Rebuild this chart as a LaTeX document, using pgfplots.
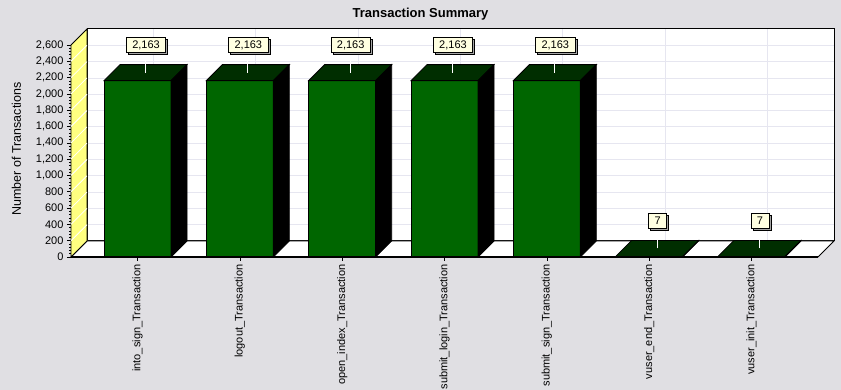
\documentclass[border=0pt]{standalone}
\usepackage{pgfplots}
\usepackage{pgfplotstable}
\pgfplotsset{compat=1.18}
\usepackage{fontspec}
\setmainfont{Liberation Sans}
\usetikzlibrary{shadows}
\definecolor{bgc}{RGB}{224,223,227}
\definecolor{frontg}{RGB}{0,102,0}
\definecolor{topg}{RGB}{0,46,0}
\definecolor{wally}{RGB}{255,255,128}
\definecolor{gridc}{RGB}{230,230,240}
\definecolor{tipy}{RGB}{255,255,225}

\pgfplotstableread{
x y
0 2163
1 2163
2 2163
3 2163
4 2163
5 7
6 7
}\datatable

\pgfdeclareplotmark{bar3d}{%
  \pgfmathsetmacro\barh{\val*0.08153846}%
  \pgfsetlinewidth{0.8pt}%
  \pgfsetstrokecolor{black}%
  \pgfpathmoveto{\pgfqpoint{-33.5pt}{0pt}}%
  \pgfpathlineto{\pgfqpoint{33.5pt}{0pt}}%
  \pgfpathlineto{\pgfqpoint{49.5pt}{16pt}}%
  \pgfpathlineto{\pgfqpoint{-17.5pt}{16pt}}%
  \pgfpathclose
  \pgfsetfillcolor{topg}%
  \pgfusepath{fill,stroke}%
  \pgfpathmoveto{\pgfqpoint{33.5pt}{0pt}}%
  \pgfpathlineto{\pgfqpoint{49.5pt}{16pt}}%
  \pgfpathlineto{\pgfpoint{49.5pt}{16pt-\barh pt}}%
  \pgfpathlineto{\pgfpoint{33.5pt}{-\barh pt}}%
  \pgfpathclose
  \pgfsetfillcolor{black}%
  \pgfusepath{fill,stroke}%
  \pgfsetstrokecolor{white}%
  \pgfpathmoveto{\pgfqpoint{8pt}{8pt}}%
  \pgfpathlineto{\pgfqpoint{8pt}{28pt}}%
  \pgfusepath{stroke}%
}

\begin{document}
\begin{tikzpicture}
\fill[bgc] (0,0) rectangle (841pt,390pt);
\begin{axis}[
  at={(71pt,133pt)}, anchor=south west,
  scale only axis, width=747pt, height=212pt,
  xmin=-0.65, xmax=6.65, ymin=0, ymax=2600,
  enlargelimits=false, clip=false,
  axis x line*=bottom, axis y line*=left,
  x axis line style={line width=2pt},
  y axis line style={line width=0.8pt},
  xtick={0,1,2,3,4,5,6},
  xticklabels={into\_sign\_Transaction,logout\_Transaction,open\_index\_Transaction,submit\_login\_Transaction,submit\_sign\_Transaction,vuser\_end\_Transaction,vuser\_init\_Transaction},
  ytick={0,200,...,2600},
  minor y tick num=4,
  tick align=outside,
  major tick length=4pt, minor tick length=2pt,
  tick style={black, line width=0.6pt},
  xticklabel style={rotate=90, anchor=east, font=\fontsize{11}{13}\selectfont},
  yticklabel style={font=\fontsize{11}{13}\selectfont},
  /pgf/number format/1000 sep={,},
  /pgf/number format/assume math mode=true,
  title={Transaction Summary},
  every axis title/.style={at={([xshift=-24pt,yshift=31pt]axis description cs:0.5,1)}, anchor=center, font=\fontsize{13}{15}\selectfont\bfseries},
  ylabel={Number of Transactions},
  every axis y label/.style={at={([xshift=-54.5pt,yshift=2pt]axis description cs:0,0.5)}, rotate=90, anchor=center, font=\fontsize{12.5}{15}\selectfont},
]
% back wall
\fill[white] ([shift={(16pt,16pt)}]rel axis cs:0,0) rectangle ([shift={(16pt,16pt)}]rel axis cs:1,1);
\pgfplotsinvokeforeach{200,400,...,2400}{
  \draw[gridc, line width=0.8pt] ([shift={(16pt,16pt)}]axis cs:-0.65,#1) -- ([shift={(16pt,16pt)}]axis cs:6.65,#1);
}
\pgfplotsinvokeforeach{0,1,...,6}{
  \draw[gridc, line width=0.8pt] ([shift={(16pt,16pt)}]axis cs:#1,0) -- ([shift={(16pt,16pt)}]axis cs:#1,2600);
}
\draw[black, line width=1pt] ([shift={(16pt,16pt)}]rel axis cs:0,0) rectangle ([shift={(16pt,16pt)}]rel axis cs:1,1);
% floor
\filldraw[fill=white, draw=black, line width=0.8pt] (rel axis cs:0,0) -- (rel axis cs:1,0) -- ([shift={(16pt,16pt)}]rel axis cs:1,0) -- ([shift={(16pt,16pt)}]rel axis cs:0,0) -- cycle;
% left wall
\filldraw[fill=wally, draw=black, line width=0.8pt] (rel axis cs:0,0) -- ([shift={(16pt,16pt)}]rel axis cs:0,0) -- ([shift={(16pt,16pt)}]rel axis cs:0,1) -- (rel axis cs:0,1) -- cycle;
\pgfplotsinvokeforeach{200,400,...,2400}{
  \draw[white, line width=0.8pt] (axis cs:-0.65,#1) -- ([shift={(16pt,16pt)}]axis cs:-0.65,#1);
}
% bars
\addplot[ybar, bar width=67pt, fill=frontg, draw=black, line width=0.8pt] table[x=x,y=y] {\datatable};
\addplot[only marks, mark=bar3d,
  visualization depends on={rawy \as \val},
  point meta=rawy,
  nodes near coords,
  nodes near coords style={anchor=center, xshift=8.5pt, yshift=35.5pt, draw=black, fill=tipy, line width=0.6pt,
    inner xsep=6pt, inner ysep=3pt, text height=8pt, text depth=1pt,
    font=\fontsize{11}{13}\selectfont,
    drop shadow={shadow xshift=2pt, shadow yshift=-2pt, fill=gray!70, opacity=1}},
] table[x=x,y=y] {\datatable};
\draw[line width=2pt] (rel axis cs:0,0) -- (rel axis cs:1,0);
\end{axis}
\pgfresetboundingbox
\useasboundingbox (0,0) rectangle (841pt,390pt);
\end{tikzpicture}
\end{document}
